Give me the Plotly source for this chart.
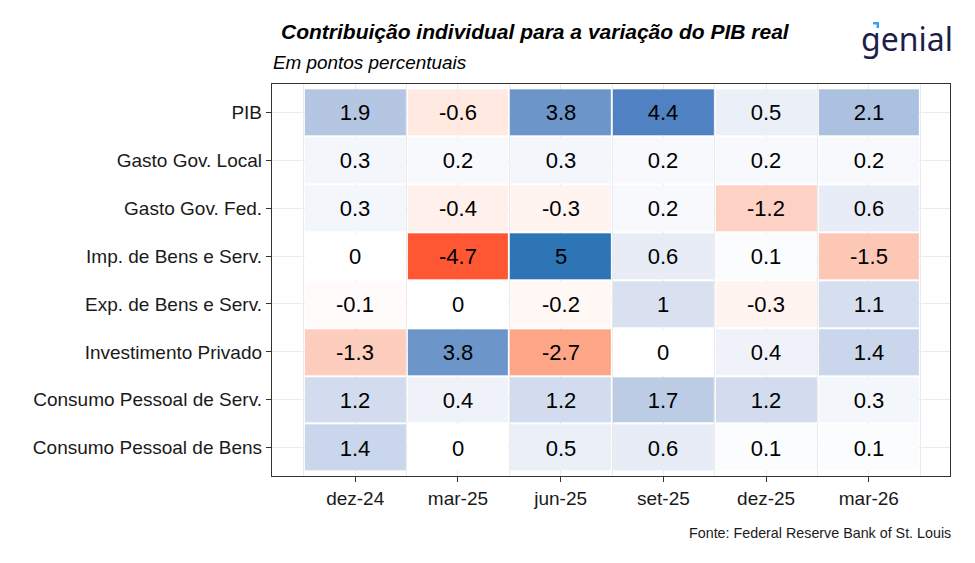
import plotly.graph_objects as go

# ---- data ----
periods = ["dez-24", "mar-25", "jun-25", "set-25", "dez-25", "mar-26"]
components = [  # top to bottom
    "PIB",
    "Gasto Gov. Local",
    "Gasto Gov. Fed.",
    "Imp. de Bens e Serv.",
    "Exp. de Bens e Serv.",
    "Investimento Privado",
    "Consumo Pessoal de Serv.",
    "Consumo Pessoal de Bens",
]
pib = [1.9, -0.6, 3.8, 4.4, 0.5, 2.1]
gasto_local = [0.3, 0.2, 0.3, 0.2, 0.2, 0.2]
gasto_fed = [0.3, -0.4, -0.3, 0.2, -1.2, 0.6]
importacoes = [0, -4.7, 5, 0.6, 0.1, -1.5]
exportacoes = [-0.1, 0, -0.2, 1, -0.3, 1.1]
investimento = [-1.3, 3.8, -2.7, 0, 0.4, 1.4]
consumo_serv = [1.2, 0.4, 1.2, 1.7, 1.2, 0.3]
consumo_bens = [1.4, 0, 0.5, 0.6, 0.1, 0.1]

rows_top_to_bottom = [pib, gasto_local, gasto_fed, importacoes, exportacoes,
                      investimento, consumo_serv, consumo_bens]

# build matrix bottom -> top
z = list(reversed(rows_top_to_bottom))
ylabels = list(reversed(components))
xs = list(range(len(periods)))
ys = list(range(len(ylabels)))


def fmt(v):
    return f"{v:g}"


text = [[fmt(v) for v in row] for row in z]

FONT = "Liberation Sans, Arial, sans-serif"

colorscale = [
    [0.00, "rgb(255,76,38)"],
    [0.03, "rgb(255,87,51)"],
    [0.23, "rgb(252,165,135)"],
    [0.37, "rgb(253,205,190)"],
    [0.44, "rgb(255,233,225)"],
    [0.50, "rgb(255,255,255)"],
    [0.56, "rgb(231,236,246)"],
    [0.62, "rgb(210,220,238)"],
    [0.69, "rgb(180,198,226)"],
    [0.88, "rgb(108,150,202)"],
    [0.94, "rgb(80,130,195)"],
    [1.00, "rgb(46,117,182)"],
]

fig = go.Figure(
    go.Heatmap(
        x=xs,
        y=ys,
        z=z,
        text=text,
        texttemplate="%{text}",
        textfont=dict(family=FONT, size=22, color="#000000"),
        zmin=-5,
        zmax=5,
        colorscale=colorscale,
        showscale=False,
        xgap=2,
        ygap=2,
        hoverinfo="skip",
    )
)

# page body has an 8px margin -> compensate
OFF = 8
W, H = 975 - OFF, 563 - OFF
L, R, T, B = 272 - OFF, 950 - OFF, 84 - OFF, 476 - OFF


def px(xp):
    return (xp - OFF - L) / (R - L)


def py(yp):
    return (B - (yp - OFF)) / (B - T)


fig.update_layout(
    width=W,
    height=H,
    margin=dict(l=L, r=W - R, t=T, b=H - B),
    paper_bgcolor="white",
    plot_bgcolor="white",
    font=dict(family=FONT, color="#1a1a1a"),
    xaxis=dict(
        range=[-0.81, 5.79],
        tickmode="array",
        tickvals=xs,
        ticktext=periods,
        ticks="outside",
        ticklen=5,
        tickcolor="#333333",
        tickfont=dict(size=19, color="#1a1a1a", family=FONT),
        showgrid=True,
        gridcolor="#EBEBEB",
        gridwidth=1,
        minor=dict(tickvals=[i - 0.5 for i in range(len(periods) + 1)], showgrid=True,
                   gridcolor="#EBEBEB", gridwidth=1, ticks=""),
        showline=True,
        linecolor="#333333",
        linewidth=1.3,
        mirror=True,
        zeroline=False,
        fixedrange=True,
    ),
    yaxis=dict(
        range=[-0.59, 7.59],
        tickmode="array",
        tickvals=ys,
        ticktext=ylabels,
        ticks="outside",
        ticklen=5,
        tickcolor="#333333",
        tickfont=dict(size=19, color="#1a1a1a", family=FONT),
        showgrid=True,
        gridcolor="#EBEBEB",
        gridwidth=1,
        showline=True,
        linecolor="#333333",
        linewidth=1.3,
        mirror=True,
        zeroline=False,
        fixedrange=True,
    ),
    annotations=[
        dict(text="<b><i>Contribuição individual para a variação do PIB real</i></b>",
             xref="paper", yref="paper", x=px(279), y=py(32), xanchor="left", yanchor="middle",
             showarrow=False, font=dict(size=21, color="#000000", family=FONT)),
        dict(text="<i>Em pontos percentuais</i>",
             xref="paper", yref="paper", x=px(271), y=py(62), xanchor="left", yanchor="middle",
             showarrow=False, font=dict(size=18.9, color="#000000", family=FONT)),
        dict(text="Fonte: Federal Reserve Bank of St. Louis",
             xref="paper", yref="paper", x=px(953), y=py(533), xanchor="right", yanchor="middle",
             showarrow=False, font=dict(size=14.3, color="#1a1a1a", family=FONT)),
        dict(text="genial",
             xref="paper", yref="paper", x=px(955), y=py(39), xanchor="right", yanchor="middle",
             showarrow=False, font=dict(size=32, color="#1c1f4a", family="Noto Sans")),
    ],
    shapes=[
        dict(type="path", xref="paper", yref="paper",
             path=(f"M {px(873)} {py(22)} L {px(879)} {py(22)} L {px(879)} {py(28)} "
                   f"L {px(876.5)} {py(28)} L {px(876.5)} {py(24.5)} L {px(873)} {py(24.5)} Z"),
             fillcolor="#35a4f4", line=dict(width=0)),
    ],
)

fig.write_html("out.html")
